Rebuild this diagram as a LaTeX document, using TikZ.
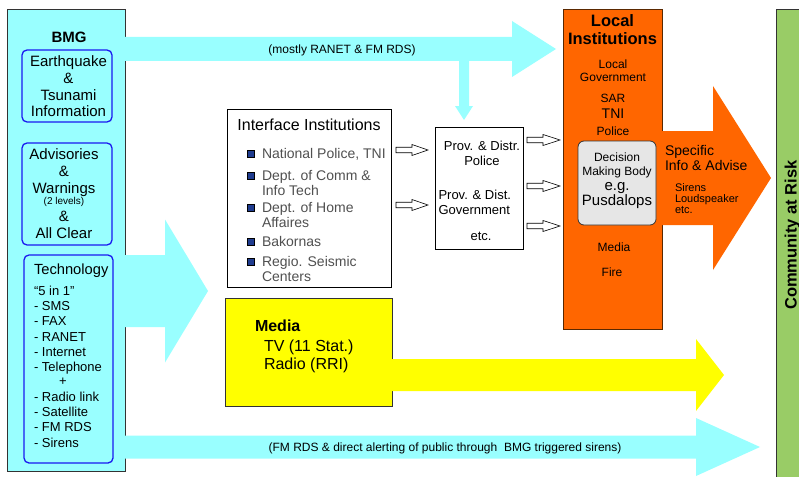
\documentclass[tikz,border=0pt]{standalone}
\usepackage{fontspec}
\setmainfont{Liberation Sans}
\definecolor{cy}{HTML}{99FFFF}
\definecolor{org}{HTML}{FF6600}
\definecolor{yel}{HTML}{FFFF00}
\definecolor{grn}{HTML}{99CC66}
\definecolor{dec}{HTML}{E6E6E6}
\definecolor{nav}{HTML}{1F3C8F}
\definecolor{itemgray}{HTML}{505050}
\definecolor{bblue}{HTML}{1A1AF0}
\definecolor{edge}{HTML}{333333}
\definecolor{brn}{HTML}{5A2800}
\newcommand\fsz[1]{\fontsize{#1}{#1}\selectfont}
% style, x0, xtip, yc, shaft half, head half, head start x
\newcommand\blockarr[7]{%
  \path[#1] (#2,#4-#5) -- (#7,#4-#5) -- (#7,#4-#6) -- (#3,#4) -- (#7,#4+#6) -- (#7,#4+#5) -- (#2,#4+#5) -- cycle;}
\tikzset{
  bx/.style={rectangle, anchor=north west, inner sep=0pt, outer sep=0pt, line width=0.8pt},
  rbx/.style={bx, rounded corners=5pt, draw=bblue, line width=1.3pt},
  tx/.style={inner sep=0pt, outer sep=0pt, anchor=base},
  txl/.style={inner sep=0pt, outer sep=0pt, anchor=base west},
  itm/.style={txl, font=\fsz{14}, text=itemgray},
  hollow/.style={fill=white, draw=black, line width=0.6pt},
  bul/.style={rectangle, inner sep=0pt, minimum size=7pt, fill=nav, draw=black, line width=0.4pt},
}
\begin{document}
\begin{tikzpicture}[x=1pt,y=-1pt]
\useasboundingbox (0,0) rectangle (799,476);
% ---------- boxes ----------
\node[bx, fill=cy, draw=edge, minimum width=118pt, minimum height=462.5pt] (bmg) at (7,9) {};
\node[rbx, minimum width=90pt, minimum height=72pt] (eq) at (22,50) {};
\node[rbx, minimum width=90pt, minimum height=102pt] (adv) at (22,143) {};
\node[rbx, minimum width=89pt, minimum height=208pt] (tech) at (24,255) {};
\node[bx, fill=white, draw=black, minimum width=164pt, minimum height=178pt] (iface) at (227,109) {};
\node[bx, fill=white, draw=black, minimum width=88pt, minimum height=122pt] (prov) at (435,127) {};
\node[bx, fill=yel, draw=edge, minimum width=167pt, minimum height=108pt] (media) at (225,298) {};
\node[bx, fill=org, draw=brn, minimum width=99pt, minimum height=320pt] (local) at (563,9) {};
\node[bx, fill=dec, draw=edge, rounded corners=6pt, minimum width=78pt, minimum height=84pt] (decide) at (578,141) {};
\fill[grn] (776,9) rectangle (799.5,476.5);
\draw[edge, line width=0.8pt] (799.5,9) -- (776,9) -- (776,476.5);
\node[rotate=90, inner sep=0pt, anchor=base, font=\bfseries\fsz{16.5}] (comm) at (796.5,235) {Community at Risk};
% ---------- block arrows ----------
\blockarr{fill=cy}{124.5}{556}{49}{12}{28}{512}
\path[fill=cy] (459,60) -- (459,106) -- (455,106) -- (464,120) -- (473,106) -- (469,106) -- (469,60) -- cycle;
\blockarr{fill=cy}{124.5}{208}{291}{36}{71.5}{165}
\blockarr{fill=cy}{124.5}{760}{447}{11.5}{29}{696}
\blockarr{fill=yel}{391.5}{724}{375}{16}{36}{696}
\blockarr{fill=org}{661.5}{771}{178}{47}{92}{713}
% hollow arrows
\blockarr{hollow}{396}{428}{150}{2.75}{5.5}{412}
\blockarr{hollow}{396}{428}{205}{2.75}{5.5}{412}
\blockarr{hollow}{527}{560}{140}{2.75}{5.5}{543}
\blockarr{hollow}{527}{560}{186}{2.75}{5.5}{543}
\blockarr{hollow}{527}{560}{226}{2.75}{5.5}{543}
% ---------- BMG texts ----------
\node[tx, font=\bfseries\fsz{15}] (bmgt) at (69,43) {BMG};
\node[tx, font=\fsz{15}] (eq1) at (68.5,66.7) {Earthquake};
\node[tx, font=\fsz{15}] (eq2) at (68.5,83.3) {\&};
\node[tx, font=\fsz{15}] (eq3) at (68.5,100) {Tsunami};
\node[tx, font=\fsz{15}] (eq4) at (68.5,116.7) {Information};
\node[tx, font=\fsz{15}] (ad1) at (64,159.3) {Advisories};
\node[tx, font=\fsz{15}] (ad2) at (64,176.7) {\&};
\node[tx, font=\fsz{15}] (ad3) at (64,193.3) {Warnings};
\node[tx, font=\fsz{10}] (ad4) at (64,204.3) {(2 levels)};
\node[tx, font=\fsz{15}] (ad5) at (64,221.7) {\&};
\node[tx, font=\fsz{15}] (ad6) at (64,238.3) {All Clear};
\node[txl, font=\fsz{14.7}] (te0) at (34,274.4) {Technology};
\node[txl, font=\fsz{13}] (te1) at (34,295.5) {“5 in 1”};
\node[txl, font=\fsz{13}] (te2) at (34,310.3) {- SMS};
\node[txl, font=\fsz{13}] (te3) at (34,325.7) {- FAX};
\node[txl, font=\fsz{13}] (te4) at (34,341) {- RANET};
\node[txl, font=\fsz{13}] (te5) at (34,356) {- Internet};
\node[txl, font=\fsz{13}] (te6) at (34,371) {- Telephone};
\node[tx, font=\fsz{13}] (te7) at (63,385.5) {+};
\node[txl, font=\fsz{13}] (te8) at (34,401.7) {- Radio link};
\node[txl, font=\fsz{13}] (te9) at (34,416.7) {- Satellite};
\node[txl, font=\fsz{13}] (te10) at (34,431.7) {- FM RDS};
\node[txl, font=\fsz{13}] (te11) at (34,447.3) {- Sirens};
% ---------- arrow labels ----------
\node[tx, font=\fsz{12}] (toplbl) at (342,53.3) {(mostly RANET \& FM RDS)};
\node[tx, font=\fsz{12}] (botlbl) at (445,451.5) {(FM RDS \& direct alerting of public through\ \ BMG triggered sirens)};
% ---------- interface ----------
\node[tx, font=\fsz{16}] (ift) at (309,130) {Interface Institutions};
\node[bul] (b1) at (251,153.3) {};
\node[bul] (b2) at (251,175.5) {};
\node[bul] (b3) at (251,207.5) {};
\node[bul] (b4) at (251,242) {};
\node[bul] (b5) at (251,262) {};
\node[itm] (i1) at (262,158.3) {National Police, TNI};
\node[itm] (i2) at (262,180) {Dept. of Comm \&};
\node[itm] (i3) at (262,195) {Info Tech};
\node[itm] (i4) at (262,212.7) {Dept. of Home};
\node[itm] (i5) at (262,227.7) {Affaires};
\node[itm] (i6) at (262,246.7) {Bakornas};
\node[itm] (i7) at (262,266.7) {Regio. Seismic};
\node[itm] (i8) at (262,281.7) {Centers};
% ---------- prov ----------
\node[tx, font=\fsz{13}] (p1) at (482,150) {Prov. \& Distr.};
\node[tx, font=\fsz{13}] (p2) at (482,165) {Police};
\node[txl, font=\fsz{13}] (p3) at (438.5,199) {Prov. \& Dist.};
\node[txl, font=\fsz{13}] (p4) at (438.5,214) {Government};
\node[tx, font=\fsz{13}] (p5) at (481,240) {etc.};
% ---------- local ----------
\node[tx, font=\bfseries\fsz{16.5}] (l1) at (612.5,26.7) {Local};
\node[tx, font=\bfseries\fsz{16.5}] (l2) at (612.5,45) {Institutions};
\node[tx, font=\fsz{12}] (l3) at (613,68.3) {Local};
\node[tx, font=\fsz{12}] (l4) at (613,81.7) {Government};
\node[tx, font=\fsz{12}] (l5) at (613,102.7) {SAR};
\node[tx, font=\fsz{14}] (l6) at (613,118.3) {TNI};
\node[tx, font=\fsz{12}] (l7) at (613,135) {Police};
\node[tx, font=\fsz{12}] (d1) at (617,161.7) {Decision};
\node[tx, font=\fsz{12}] (d2) at (617,175) {Making Body};
\node[tx, font=\fsz{15}] (d3) at (617,190.7) {e.g.};
\node[tx, font=\fsz{15}] (d4) at (617,205) {Pusdalops};
\node[tx, font=\fsz{12}] (l8) at (614,251.7) {Media};
\node[tx, font=\fsz{12}] (l9) at (612,276.7) {Fire};
% ---------- orange arrow text ----------
\node[txl, font=\fsz{14}] (s1) at (665,155) {Specific};
\node[txl, font=\fsz{14}] (s2) at (665,170) {Info \& Advise};
\node[txl, font=\fsz{11}] (s3) at (675,191.7) {Sirens};
\node[txl, font=\fsz{11}] (s4) at (675,202.3) {Loudspeaker};
\node[txl, font=\fsz{11}] (s5) at (675,213.3) {etc.};
% ---------- media ----------
\node[txl, font=\bfseries\fsz{16}] (m1) at (255,331.7) {Media};
\node[txl, font=\fsz{16}] (m2) at (264,351) {TV (11 Stat.)};
\node[txl, font=\fsz{16}] (m3) at (264,369.3) {Radio (RRI)};
\end{tikzpicture}
\end{document}
